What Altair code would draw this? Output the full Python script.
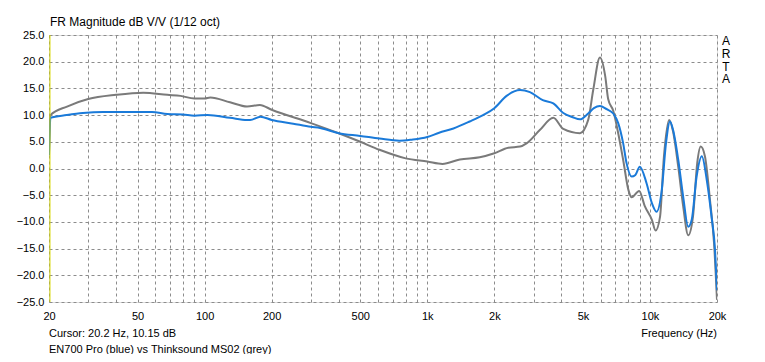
import altair as alt
import pandas as pd

# EN700 Pro (blue)
blue_f = [20, 20.3, 24, 28.4, 35, 40, 50, 58, 68, 80, 90, 103, 130, 155, 160, 178, 200, 250,
          300, 330, 400, 500, 610, 750, 850, 1000, 1130, 1310, 1550, 1780, 2000, 2270, 2610,
          2890, 3300, 3680, 4080, 4500, 4850, 5280, 5600, 5960, 6390, 6840, 7200, 7580, 7850,
          8270, 8600, 9000, 9660, 10200, 10700, 11300, 11800, 12300, 12700, 13400, 14100,
          14850, 15400, 16200, 17100, 18000, 18900, 19600, 20000]
blue_db = [2.5, 9.5, 10.0, 10.4, 10.6, 10.6, 10.6, 10.6, 10.2, 10.1, 9.9, 10.0, 9.5, 9.1, 9.1,
           9.7, 9.1, 8.4, 7.8, 7.6, 6.6, 6.1, 5.6, 5.2, 5.4, 5.9, 6.7, 7.5, 8.8, 10.0, 11.3,
           13.6, 14.7, 14.3, 12.8, 12.2, 10.4, 9.6, 9.2, 10.3, 11.3, 11.7, 11.1, 10.3, 8.5,
           4.7, 1.0, -1.5, -1.2, 0.35, -2.8, -6.5, -8.1, -4.0, 4.7, 8.8, 7.2, 1.6, -5.3,
           -10.9, -9.6, -1.5, 2.3, -2.2, -9.0, -15.3, -22.8]

# Thinksound MS02 (grey)
grey_f = [20, 20.3, 24.1, 30, 40, 53, 68, 78, 90, 100, 106, 130, 155, 177, 200, 300, 400, 500,
          610, 800, 1000, 1170, 1400, 1720, 2000, 2310, 2610, 2790, 3200, 3680, 4080, 4850,
          5280, 5560, 5960, 6300, 6490, 6840, 7200, 7580, 8000, 8270, 8940, 9490, 10200,
          10600, 11100, 11550, 12200, 12700, 13400, 14100, 14850, 15600, 16300, 16900,
          17650, 18600, 19400, 20000]
grey_db = [3.0, 10.0, 11.6, 13.0, 13.8, 14.2, 13.8, 13.6, 13.1, 13.1, 13.3, 12.4, 11.6, 11.9,
           11.0, 8.5, 6.6, 5.0, 3.5, 1.9, 1.3, 0.85, 1.7, 2.1, 2.85, 3.9, 4.1, 4.7, 7.2, 9.5,
           7.4, 6.6, 9.1, 14.7, 20.8, 17.2, 13.0, 10.8, 6.6, 1.6, -4.0, -5.4, -4.2, -7.1,
           -9.6, -11.6, -9.0, 2.2, 9.1, 6.9, 0.3, -7.1, -12.5, -9.0, 1.0, 4.1, 2.3, -5.9,
           -14.0, -24.6]

grid_freqs = [20, 30, 40, 50, 60, 70, 80, 90, 100, 200, 300, 400, 500, 600, 700, 800, 900,
              1000, 2000, 3000, 4000, 5000, 6000, 7000, 8000, 9000, 10000, 20000]
label_freqs = [20, 50, 100, 200, 500, 1000, 2000, 5000, 10000, 20000]
label_text = ["20", "50", "100", "200", "500", "1k", "2k", "5k", "10k", "20k"]
db_ticks = [25, 20, 15, 10, 5, 0, -5, -10, -15, -20, -25]

title_text = "FR Magnitude dB V/V (1/12 oct)"
cursor_text = "Cursor: 20.2 Hz, 10.15 dB"
legend_text = "EN700 Pro (blue) vs Thinksound MS02 (grey)"
xlabel_text = "Frequency (Hz)"
brand_text = "A\nR\nT\nA"

W, H = 668, 267
FONT = "Liberation Sans"

df = pd.concat([
    pd.DataFrame({"f": blue_f, "db": blue_db, "s": "blue"}),
    pd.DataFrame({"f": grey_f, "db": grey_db, "s": "grey"}),
])

label_expr = " : ".join(
    f"datum.value == {v} ? '{t}'" for v, t in zip(label_freqs, label_text)
) + " : ''"

xscale = alt.Scale(type="log", domain=[20, 20000], nice=False)
yscale = alt.Scale(domain=[-25, 25], nice=False)

xaxis = alt.Axis(values=grid_freqs, labelExpr=label_expr, title=None, grid=True,
                 gridDash=[3, 3], gridColor="#8c8c8c", gridWidth=1, ticks=False,
                 domain=False, labelFont=FONT, labelFontSize=11, labelColor="#000",
                 labelPadding=8, labelOverlap=False, labelFlush=False)
yaxis = alt.Axis(values=db_ticks, format=".1f", title=None, grid=True, gridDash=[3, 3],
                 gridColor="#8c8c8c", gridWidth=1, ticks=False, domain=False,
                 labelFont=FONT, labelFontSize=11, labelColor="#000", labelPadding=5)

base = alt.Chart(df)

lines = base.mark_line(strokeWidth=2, interpolate="monotone", clip=True).encode(
    x=alt.X("f:Q", scale=xscale, axis=xaxis),
    y=alt.Y("db:Q", scale=yscale, axis=yaxis),
    color=alt.Color("s:N", scale=alt.Scale(domain=["grey", "blue"],
                                           range=["#7a7a7a", "#1a7ad9"]), legend=None),
    order=alt.Order("f:Q"),
)
# draw grey first, then blue on top
grey_line = lines.transform_filter("datum.s == 'grey'")
blue_line = lines.transform_filter("datum.s == 'blue'")

cursor = alt.Chart(pd.DataFrame({"f": [20.2]})).mark_rule(color="#d8d800", strokeWidth=1).encode(
    x=alt.X("f:Q", scale=xscale)
)

def txt(t, x, y, size=11, align="left", **kw):
    return alt.Chart(pd.DataFrame({"t": [t]})).mark_text(
        align=align, baseline="middle", font=FONT, fontSize=size, color="#000", **kw
    ).encode(text="t:N", x=alt.value(x), y=alt.value(y))

title = txt(title_text, 1, -13, size=12)
cursor_t = txt(cursor_text, 0, 299)
legend_t = txt(legend_text, 0, 315)
xlabel_t = txt(xlabel_text, W, 299, align="right")
brand = alt.Chart(pd.DataFrame({"t": [brand_text]})).mark_text(
    align="center", baseline="top", font=FONT, fontSize=12, color="#000",
    lineBreak="\n", lineHeight=12.8
).encode(text="t:N", x=alt.value(677), y=alt.value(1))

chart = alt.layer(grey_line, blue_line, cursor, title, cursor_t, legend_t, xlabel_t, brand).properties(
    width=W, height=H,
    autosize=alt.AutoSizeParams(type="none"),
    padding={"left": 41, "top": 27, "right": 36, "bottom": 52},
).configure_view(stroke="#000", strokeWidth=1).configure(background="#ffffff")

chart.save("out.html", embed_options={"renderer": "svg", "actions": False})
